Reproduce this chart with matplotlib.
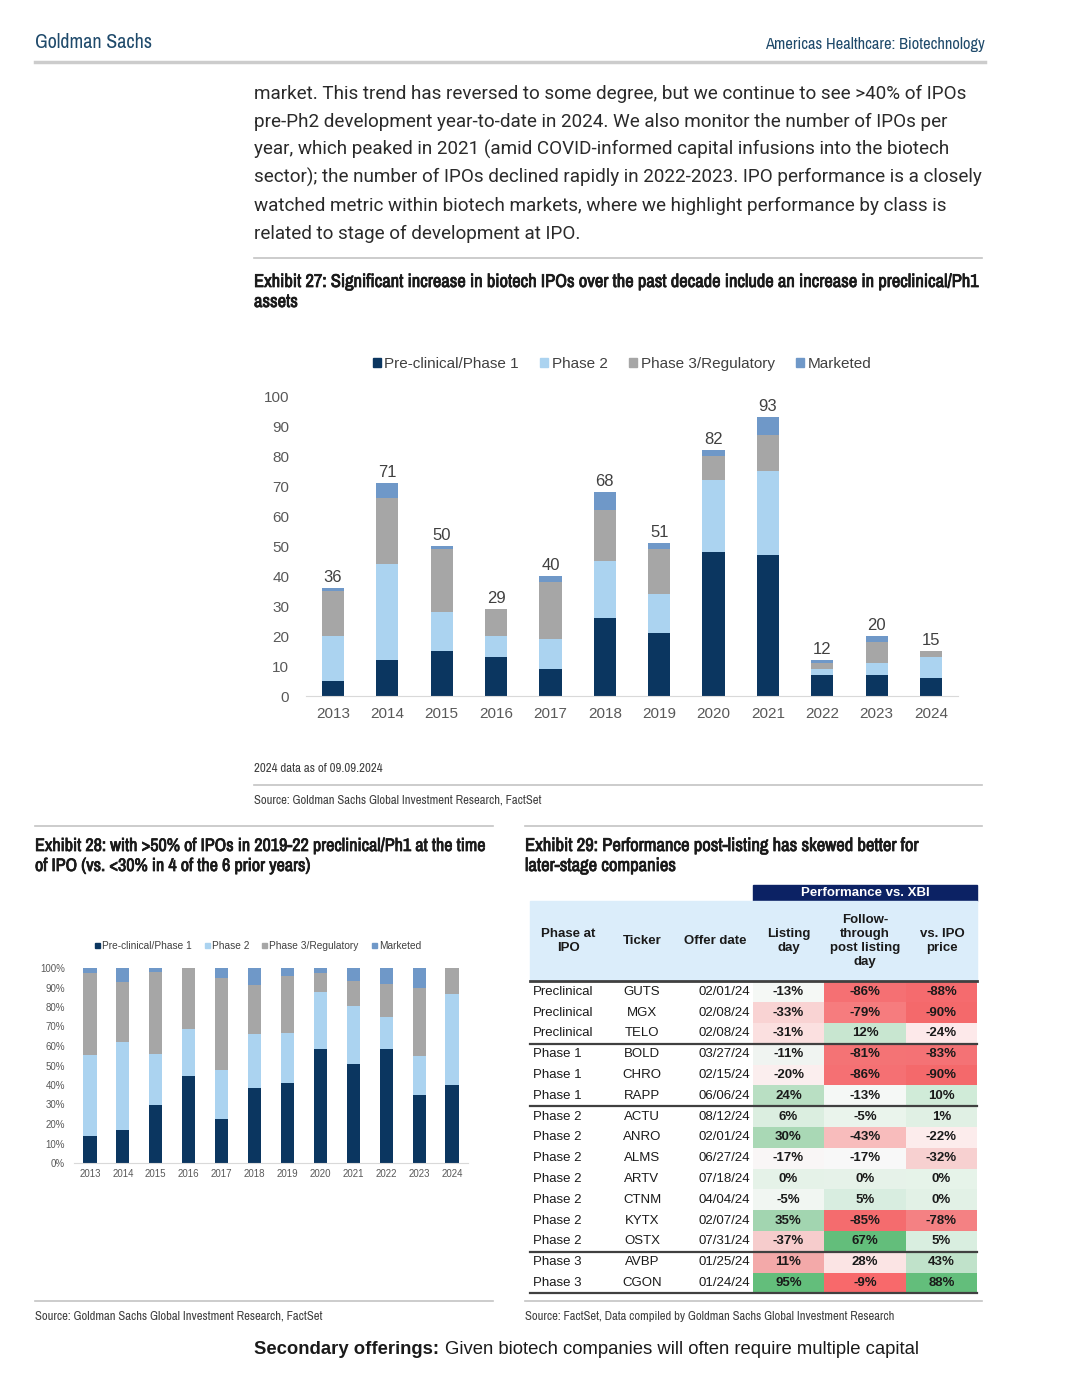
import numpy as np
import matplotlib
matplotlib.use('Agg')
import matplotlib.pyplot as plt
from matplotlib.patches import Rectangle, Patch
from matplotlib import font_manager as fm
import matplotlib.patheffects as pe

# ---- data -------------------------------------------------------------
years = ['2013', '2014', '2015', '2016', '2017', '2018',
         '2019', '2020', '2021', '2022', '2023', '2024']
preclin = [5, 12, 15, 13, 9, 26, 21, 48, 47, 7, 7, 6]
phase2 = [15, 32, 13, 7, 10, 19, 13, 24, 28, 2, 4, 7]
phase3 = [15, 22, 21, 9, 19, 17, 15, 8, 12, 2, 7, 2]
marketed = [1, 5, 1, 0, 2, 6, 2, 2, 6, 1, 2, 0]
series_names = ['Pre-clinical/Phase 1', 'Phase 2', 'Phase 3/Regulatory', 'Marketed']

phase_at_ipo = ['Preclinical', 'Preclinical', 'Preclinical', 'Phase 1', 'Phase 1', 'Phase 1',
                'Phase 2', 'Phase 2', 'Phase 2', 'Phase 2', 'Phase 2', 'Phase 2', 'Phase 2',
                'Phase 3', 'Phase 3']
tickers = ['GUTS', 'MGX', 'TELO', 'BOLD', 'CHRO', 'RAPP', 'ACTU', 'ANRO', 'ALMS', 'ARTV',
           'CTNM', 'KYTX', 'OSTX', 'AVBP', 'CGON']
offer_dates = ['02/01/24', '02/08/24', '02/08/24', '03/27/24', '02/15/24', '06/06/24',
               '08/12/24', '02/01/24', '06/27/24', '07/18/24', '04/04/24', '02/07/24',
               '07/31/24', '01/25/24', '01/24/24']
listing_day = [-13, -33, -31, -11, -20, 24, 6, 30, -17, 0, -5, 35, -37, 11, 95]
follow_through = [-86, -79, 12, -81, -86, -13, -5, -43, -17, 0, 5, -85, 67, 28, -9]
vs_ipo = [-88, -90, -24, -83, -90, 10, 1, -22, -32, 0, 0, -78, 5, 43, 88]

# cell shading as it appears in the exhibit
listing_col = ['#f5f8f5', '#f9d3d3', '#fbe0e0', '#f0f4f1', '#fbeeee', '#b9dfc3', '#dbeee0',
               '#a9d8b5', '#f9f6f6', '#e5f2e8', '#f1f6f2', '#a2d5b0', '#f6cccc', '#f3a9a9', '#63be7b']
follow_col = ['#f57073', '#f67c7e', '#c8e6d0', '#f47375', '#f57073', '#f5f8f6', '#eaf4ec',
              '#f8bcbc', '#f8f8f8', '#e6f2e9', '#d8ede0', '#f46c6e', '#63be7b', '#fbe4e4', '#f8696b']
ipo_col = ['#f56b6e', '#f4696b', '#fde9ea', '#f47275', '#f4696b', '#d0ebd8', '#e0f0e4',
           '#fcecec', '#f7d0d0', '#e6f3e9', '#e2f1e6', '#f48183', '#d9eee0', '#c0e2ca', '#63be7b']

colors = ['#0b3660', '#abd3f0', '#a6a6a6', '#6f98c8']
W, H = 1080, 1382
ARIAL = ['Liberation Sans', 'DejaVu Sans']

# narrow faces for headings / sources (prefer the Liberation narrow cut)
cands = [f for f in fm.fontManager.ttflist
         if ('Narrow' in f.name or 'Condensed' in f.name) and f.style == 'normal']
cands.sort(key=lambda f: 0 if 'Liberation' in f.name else 1)
reg = [f for f in cands if f.weight in (400, 'normal', 'regular', 'book')]
bld = [f for f in cands if f.weight in (700, 'bold')]
REG_FILE = reg[0].fname if reg else None
BOLD_FILE = bld[0].fname if (bld and 'Liberation' in bld[0].name) else None

fig = plt.figure(figsize=(W / 100, H / 100), dpi=100)
fig.patch.set_facecolor('white')


def P(x, y):
    return x / W, 1 - y / H


def txt(x, y, s, **kw):
    fig.text(*P(x, y), s, **kw)


def ntxt(x, y, s, size, width=None, bold=False, **kw):
    # condensed text, sized so that it covers the width seen in the exhibit
    effects = []
    if bold and BOLD_FILE:
        fp = fm.FontProperties(fname=BOLD_FILE, size=size)
    elif REG_FILE:
        fp = fm.FontProperties(fname=REG_FILE, size=size)
        if bold:
            effects = [pe.withStroke(linewidth=0.55, foreground=kw.get('color', 'k'))]
    else:
        fp = fm.FontProperties(family='DejaVu Sans', stretch='condensed', size=size,
                               weight='bold' if bold else 'normal')
    t = fig.text(*P(x, y), s, fontproperties=fp, va='center', path_effects=effects, **kw)
    if width:
        fig.canvas.draw()
        w = t.get_window_extent().width
        t.set_fontsize(size * width / w)
    return t


def hline(x0, x1, y, c='#c4c4c4', lw=1.2):
    fig.add_artist(plt.Line2D([x0 / W, x1 / W], [1 - y / H] * 2, color=c, lw=lw))


def ax_at(x0, y0, x1, y1):
    return fig.add_axes([x0 / W, 1 - y1 / H, (x1 - x0) / W, (y1 - y0) / H])


# ---- page furniture ----------------------------------------------------
ntxt(35, 43, 'Goldman Sachs', 13.5, width=117, color='#1f4a6b')
ntxt(985, 45, 'Americas Healthcare: Biotechnology', 10.5, width=220, color='#1f4a6b', ha='right')
hline(35, 985, 62, c='#cccccc', lw=2.5)

body = ['market. This trend has reversed to some degree, but we continue to see >40% of IPOs',
        'pre-Ph2 development year-to-date in 2024. We also monitor the number of IPOs per',
        'year, which peaked in 2021 (amid COVID-informed capital infusions into the biotech',
        'sector); the number of IPOs declined rapidly in 2022-2023. IPO performance is a closely',
        'watched metric within biotech markets, where we highlight performance by class is',
        'related to stage of development at IPO.']
for i, line in enumerate(body):
    txt(254, 94 + 27.9 * i, line, family=['Roboto', 'DejaVu Sans'], fontsize=13.55,
        color='#2a2a2a', va='center')
hline(254, 982, 258)

t27 = ntxt(254, 282, 'Exhibit 27: Significant increase in biotech IPOs over the past decade include an '
           'increase in preclinical/Ph1', 11.5, width=724, bold=True, color='#1a1a1a')
ntxt(254, 302, 'assets', t27.get_fontsize(), bold=True, color='#1a1a1a')

# ---- Exhibit 27: stacked counts ------------------------------------------
x = np.arange(len(years))
stack = np.array([preclin, phase2, phase3, marketed], dtype=float)
totals = stack.sum(axis=0)

ax = ax_at(305.8, 396, 958.2, 696)
bottom = np.zeros(len(years))
for vals, c, name in zip(stack, colors, series_names):
    ax.bar(x, vals, 0.41, bottom=bottom, color=c, label=name)
    bottom += vals
for xi, t in zip(x, totals):
    ax.annotate(f'{int(t)}', (xi, t), xytext=(0, 2.5), textcoords='offset points',
                ha='center', va='bottom', fontsize=12, family=ARIAL, color='#404040')
ax.set_xlim(-0.5, len(years) - 0.5)
ax.set_ylim(0, 100)
ax.set_yticks(range(0, 101, 10))
ax.set_xticks(x, years)
ax.tick_params(length=0, labelsize=11, labelcolor='#595959', pad=8)
ax.tick_params(axis='y', pad=12)
for lab in ax.get_xticklabels() + ax.get_yticklabels():
    lab.set_family(ARIAL)
for s in ['top', 'right', 'left']:
    ax.spines[s].set_visible(False)
ax.spines['bottom'].set_color('#d9d9d9')
ax.patch.set_alpha(0)

handles = [Patch(color=c) for c in colors]
fig.legend(handles, series_names, loc='center', bbox_to_anchor=P(622, 364), ncol=4,
           frameon=False, handlelength=0.5, handleheight=0.5, handletextpad=0.25,
           columnspacing=1.4, prop={'family': ARIAL, 'size': 11}, labelcolor='#404040')

ntxt(254, 768, '2024 data as of 09.09.2024', 9, width=128, color='#404040')
hline(254, 982, 785)
ntxt(254, 800, 'Source: Goldman Sachs Global Investment Research, FactSet', 9, width=288,
     color='#404040')
hline(35, 493, 826)
hline(525, 982, 826)

# ---- Exhibit 28: 100% stacked -------------------------------------------
t28 = ntxt(35, 846, 'Exhibit 28: with >50% of IPOs in 2019-22 preclinical/Ph1 at the time', 11.5,
           width=450, bold=True, color='#1a1a1a')
ntxt(35, 866, 'of IPO (vs. <30% in 4 of the 6 prior years)', t28.get_fontsize(),
     bold=True, color='#1a1a1a')

share = stack / totals * 100
ax2 = ax_at(73.5, 968, 468.5, 1163)
bottom = np.zeros(len(years))
for vals, c in zip(share, colors):
    ax2.bar(x, vals, 0.4, bottom=bottom, color=c)
    bottom += vals
ax2.set_xlim(-0.5, len(years) - 0.5)
ax2.set_ylim(0, 100)
ax2.set_yticks(range(0, 101, 10), [f'{v}%' for v in range(0, 101, 10)])
ax2.set_xticks(x, years)
ax2.tick_params(length=0, labelsize=7, labelcolor='#595959', pad=4)
ax2.tick_params(axis='y', pad=6)
for lab in ax2.get_xticklabels() + ax2.get_yticklabels():
    lab.set_family(ARIAL)
for s in ['top', 'right', 'left']:
    ax2.spines[s].set_visible(False)
ax2.spines['bottom'].set_color('#d9d9d9')
fig.legend(handles, series_names, loc='center', bbox_to_anchor=P(258, 946), ncol=4,
           frameon=False, handlelength=0.5, handleheight=0.5, handletextpad=0.2,
           columnspacing=1.3, prop={'family': ARIAL, 'size': 7.3}, labelcolor='#404040')

# ---- Exhibit 29: table --------------------------------------------------
t29 = ntxt(525, 846, 'Exhibit 29: Performance post-listing has skewed better for', 11.5,
           width=393, bold=True, color='#1a1a1a')
ntxt(525, 866, 'later-stage companies', t29.get_fontsize(), bold=True, color='#1a1a1a')

tx = ax_at(528, 884, 980, 1296)
tx.set_xlim(528, 980)
tx.set_ylim(1296, 884)
tx.axis('off')
tfont = dict(family=ARIAL, fontsize=9.5, color='#1a1a1a')
tx.add_patch(Rectangle((753, 885), 224, 16, color='#0c2264'))
tx.text(865, 893, 'Performance vs. XBI', ha='center', va='center', weight='bold',
        family=ARIAL, fontsize=9.5, color='white')
tx.add_patch(Rectangle((530, 901), 447, 79, color='#dbedfa'))
heads = [(568, 'Phase at\nIPO'), (642, 'Ticker'), (715, 'Offer date'), (789, 'Listing\nday'),
         (865, 'Follow-\nthrough\npost listing\nday'), (942, 'vs. IPO\nprice')]
for hx, h in heads:
    tx.text(hx, 941, h, ha='center', va='center', weight='bold', linespacing=1.25, **tfont)

row_h = 20.8
top0 = 981.5
col_edges = [753, 824, 906, 977]
for i in range(len(tickers)):
    yt = top0 + i * row_h
    yc = yt + row_h / 2
    for j, (vals, cols) in enumerate([(listing_day, listing_col), (follow_through, follow_col),
                                      (vs_ipo, ipo_col)]):
        tx.add_patch(Rectangle((col_edges[j], yt), col_edges[j + 1] - col_edges[j], row_h,
                               color=cols[i], lw=0))
        tx.text((col_edges[j] + col_edges[j + 1]) / 2, yc, f'{vals[i]}%', ha='center',
                va='center', weight='bold', **tfont)
    tx.text(533, yc, phase_at_ipo[i], ha='left', va='center', **tfont)
    tx.text(642, yc, tickers[i], ha='center', va='center', **tfont)
    tx.text(750, yc, offer_dates[i], ha='right', va='center', **tfont)

tx.plot([530, 977], [top0, top0], color='#404040', lw=2)
for i in range(1, len(phase_at_ipo) + 1):
    if i == len(phase_at_ipo) or phase_at_ipo[i] != phase_at_ipo[i - 1]:
        yl = top0 + i * row_h
        tx.plot([530, 977], [yl, yl], color='#404040', lw=1.6)

# ---- footers --------------------------------------------------------------
hline(35, 493, 1301)
hline(525, 982, 1301)
ntxt(35, 1316, 'Source: Goldman Sachs Global Investment Research, FactSet', 9, width=288,
     color='#404040')
ntxt(525, 1316, 'Source: FactSet, Data compiled by Goldman Sachs Global Investment Research', 9,
     width=371, color='#404040')

t = fig.text(*P(254, 1350), 'Secondary offerings:', family=ARIAL, fontsize=13.3,
             weight='bold', color='#1a1a1a', va='center')
fig.canvas.draw()
bb = t.get_window_extent()
fig.text(bb.x1 / W + 6 / W, 1 - 1350 / H, 'Given biotech companies will often require multiple capital',
         family=ARIAL, fontsize=13.3, color='#1a1a1a', va='center')

fig.savefig('out.png', dpi=100)
